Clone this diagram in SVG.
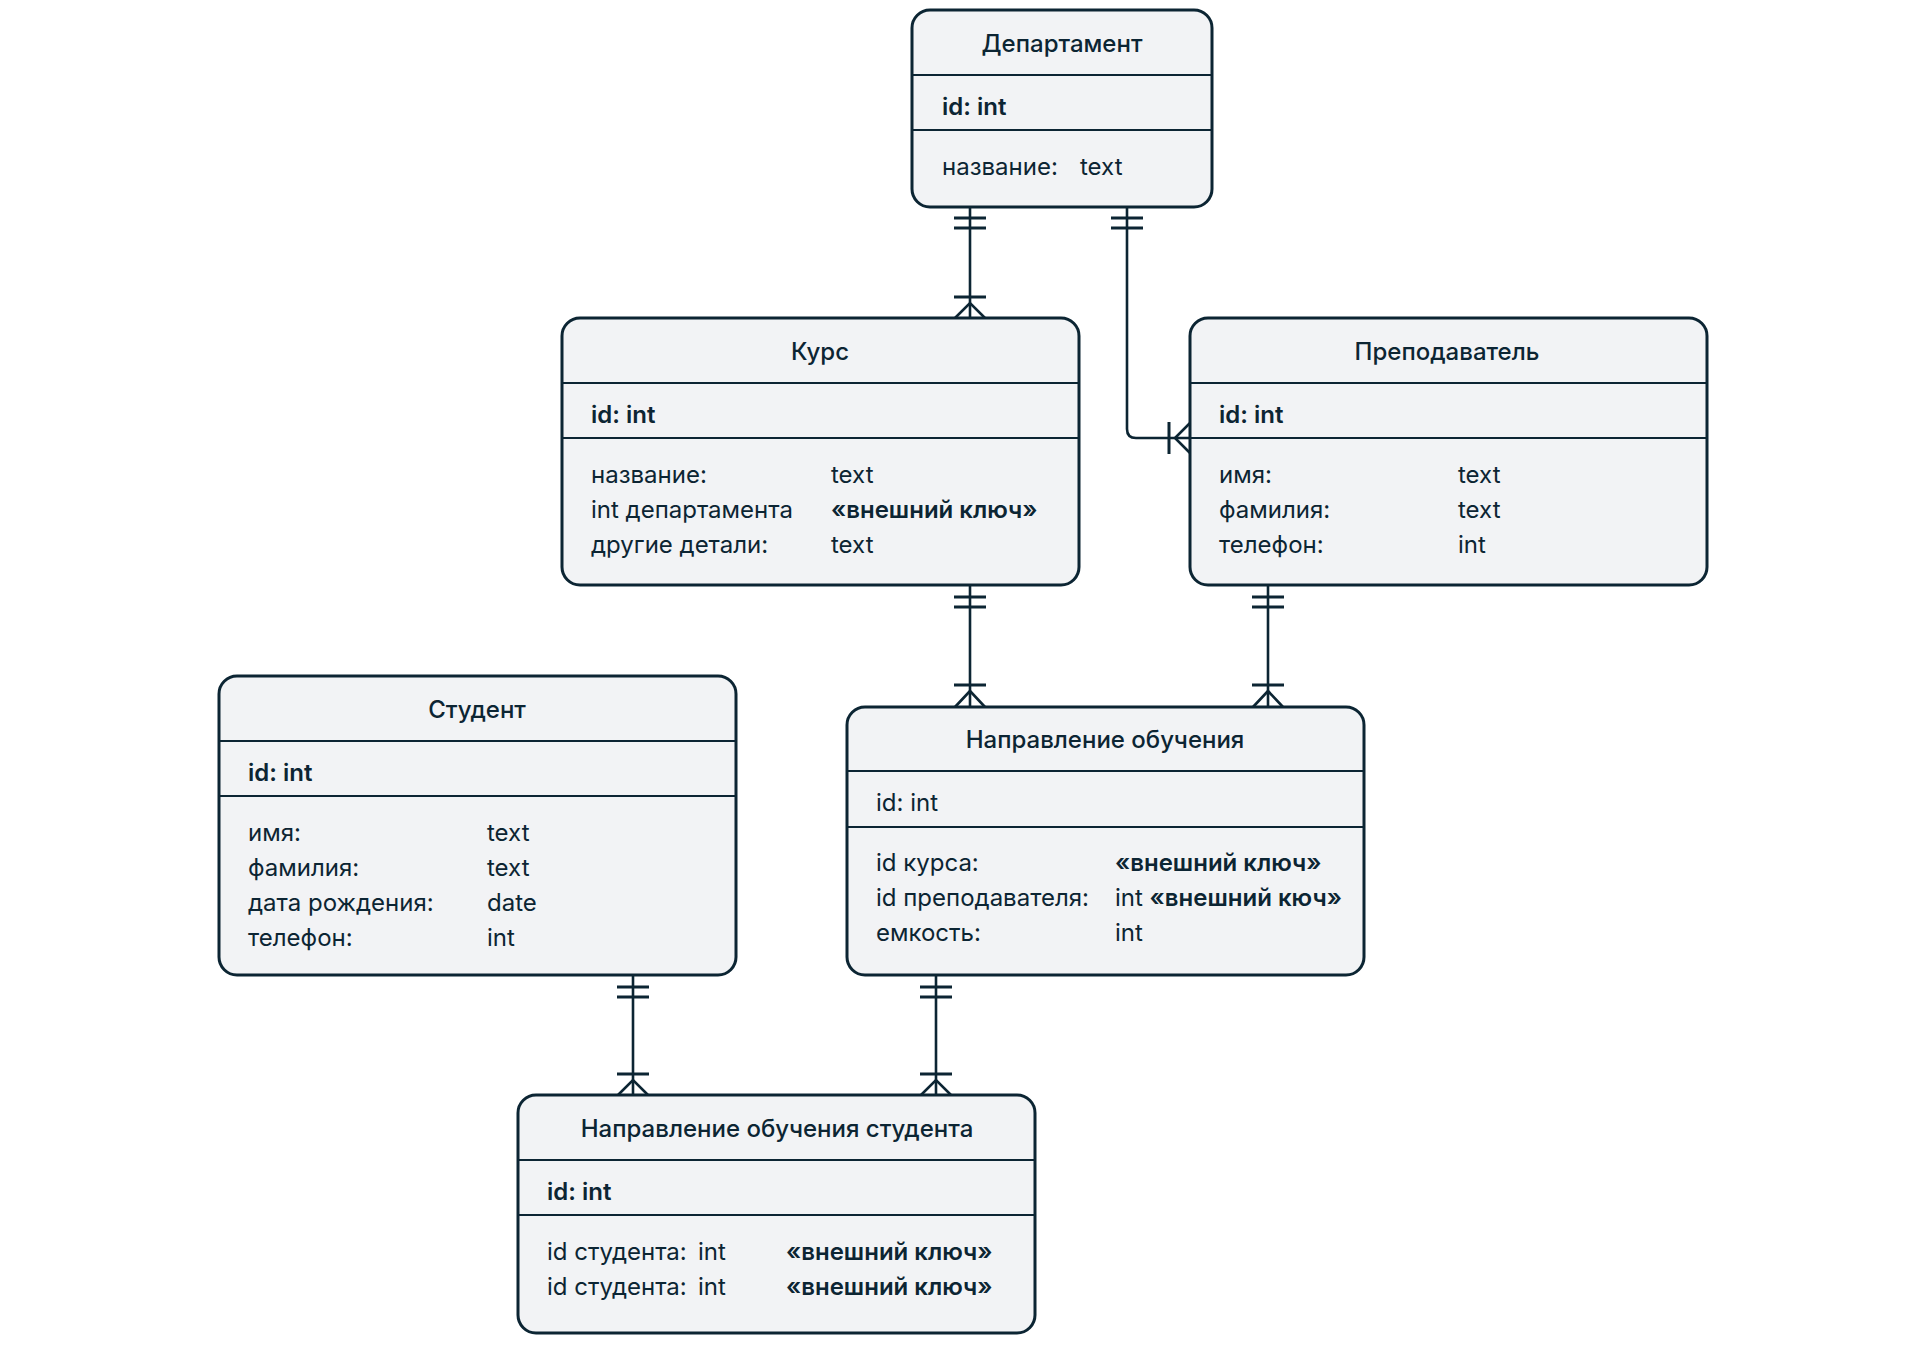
<svg xmlns="http://www.w3.org/2000/svg" width="1920" height="1370" viewBox="0 0 1920 1370">
<style>
.box{fill:#f2f3f5;stroke:#0c2533;stroke-width:3}
.div{stroke:#0c2533;stroke-width:2.2}
.t{font-family:Inter,"Noto Sans",sans-serif;font-size:24px;fill:#0c2533}
.title{font-weight:500;text-anchor:middle}
.pk{font-weight:600}
.b{font-weight:600}
.ln{fill:none;stroke:#0c2533;stroke-width:2.6}
.bar{fill:none;stroke:#0c2533;stroke-width:3}
</style>
<rect width="1920" height="1370" fill="#ffffff"/>

<g id="connectors">
  <!-- Департамент -> Курс -->
  <path class="ln" d="M970,207 V318"/>
  <path class="bar" d="M954,218 H986 M954,228 H986 M954,297 H986"/>
  <path class="ln" d="M955,318 L970,303 L985,318"/>
  <!-- Департамент -> Преподаватель -->
  <path class="ln" d="M1127,207 V429 Q1127,438 1136,438 H1190"/>
  <path class="bar" d="M1111,218 H1143 M1111,228 H1143 M1169,422 V454"/>
  <path class="ln" d="M1190,423 L1175,438 L1190,453"/>
  <!-- Курс -> Направление обучения -->
  <path class="ln" d="M970,585 V707"/>
  <path class="bar" d="M954,597 H986 M954,607 H986 M954,685 H986"/>
  <path class="ln" d="M955,707 L970,691 L985,707"/>
  <!-- Преподаватель -> Направление обучения -->
  <path class="ln" d="M1268,585 V707"/>
  <path class="bar" d="M1252,597 H1284 M1252,607 H1284 M1252,685 H1284"/>
  <path class="ln" d="M1253,707 L1268,691 L1283,707"/>
  <!-- Студент -> НОС -->
  <path class="ln" d="M633,975 V1095"/>
  <path class="bar" d="M617,987 H649 M617,997 H649 M617,1074 H649"/>
  <path class="ln" d="M618,1095 L633,1080 L648,1095"/>
  <!-- Направление обучения -> НОС -->
  <path class="ln" d="M936,975 V1095"/>
  <path class="bar" d="M920,987 H952 M920,997 H952 M920,1074 H952"/>
  <path class="ln" d="M921,1095 L936,1080 L951,1095"/>
</g>

<g id="department">
  <rect class="box" x="912" y="10" width="300" height="197" rx="18"/>
  <line class="div" x1="912" y1="75" x2="1212" y2="75"/>
  <line class="div" x1="912" y1="130" x2="1212" y2="130"/>
  <text class="t title" x="1062" y="52">Департамент</text>
  <text class="t pk" x="942" y="115">id: int</text>
  <text class="t" x="942" y="175">название:</text>
  <text class="t" x="1080" y="175">text</text>
</g>

<g id="course">
  <rect class="box" x="562" y="318" width="517" height="267" rx="18"/>
  <line class="div" x1="562" y1="383" x2="1079" y2="383"/>
  <line class="div" x1="562" y1="438" x2="1079" y2="438"/>
  <text class="t title" x="820" y="360">Курс</text>
  <text class="t pk" x="591" y="423">id: int</text>
  <text class="t" x="591" y="483">название:</text>
  <text class="t" x="831" y="483">text</text>
  <text class="t" x="591" y="518">int департамента</text>
  <text class="t b" x="831" y="518">«внешний ключ»</text>
  <text class="t" x="591" y="553">другие детали:</text>
  <text class="t" x="831" y="553">text</text>
</g>

<g id="teacher">
  <rect class="box" x="1190" y="318" width="517" height="267" rx="18"/>
  <line class="div" x1="1190" y1="383" x2="1707" y2="383"/>
  <line class="div" x1="1190" y1="438" x2="1707" y2="438"/>
  <text class="t title" x="1447" y="360">Преподаватель</text>
  <text class="t pk" x="1219" y="423">id: int</text>
  <text class="t" x="1219" y="483">имя:</text>
  <text class="t" x="1458" y="483">text</text>
  <text class="t" x="1219" y="518">фамилия:</text>
  <text class="t" x="1458" y="518">text</text>
  <text class="t" x="1219" y="553">телефон:</text>
  <text class="t" x="1458" y="553">int</text>
</g>

<g id="student">
  <rect class="box" x="219" y="676" width="517" height="299" rx="18"/>
  <line class="div" x1="219" y1="741" x2="736" y2="741"/>
  <line class="div" x1="219" y1="796" x2="736" y2="796"/>
  <text class="t title" x="477" y="718">Студент</text>
  <text class="t pk" x="248" y="781">id: int</text>
  <text class="t" x="248" y="841">имя:</text>
  <text class="t" x="487" y="841">text</text>
  <text class="t" x="248" y="876">фамилия:</text>
  <text class="t" x="487" y="876">text</text>
  <text class="t" x="248" y="911">дата рождения:</text>
  <text class="t" x="487" y="911">date</text>
  <text class="t" x="248" y="946">телефон:</text>
  <text class="t" x="487" y="946">int</text>
</g>

<g id="program">
  <rect class="box" x="847" y="707" width="517" height="268" rx="18"/>
  <line class="div" x1="847" y1="771" x2="1364" y2="771"/>
  <line class="div" x1="847" y1="827" x2="1364" y2="827"/>
  <text class="t title" x="1105" y="748">Направление обучения</text>
  <text class="t" x="876" y="811">id: int</text>
  <text class="t" x="876" y="871">id курса:</text>
  <text class="t b" x="1115" y="871">«внешний ключ»</text>
  <text class="t" x="876" y="906">id преподавателя:</text>
  <text class="t" x="1115" y="906">int <tspan class="b">«внешний кюч»</tspan></text>
  <text class="t" x="876" y="941">емкость:</text>
  <text class="t" x="1115" y="941">int</text>
</g>

<g id="student-program">
  <rect class="box" x="518" y="1095" width="517" height="238" rx="18"/>
  <line class="div" x1="518" y1="1160" x2="1035" y2="1160"/>
  <line class="div" x1="518" y1="1215" x2="1035" y2="1215"/>
  <text class="t title" x="777" y="1137">Направление обучения студента</text>
  <text class="t pk" x="547" y="1200">id: int</text>
  <text class="t" x="547" y="1260">id студента:</text>
  <text class="t" x="698" y="1260">int</text>
  <text class="t b" x="786" y="1260">«внешний ключ»</text>
  <text class="t" x="547" y="1295">id студента:</text>
  <text class="t" x="698" y="1295">int</text>
  <text class="t b" x="786" y="1295">«внешний ключ»</text>
</g>
</svg>
